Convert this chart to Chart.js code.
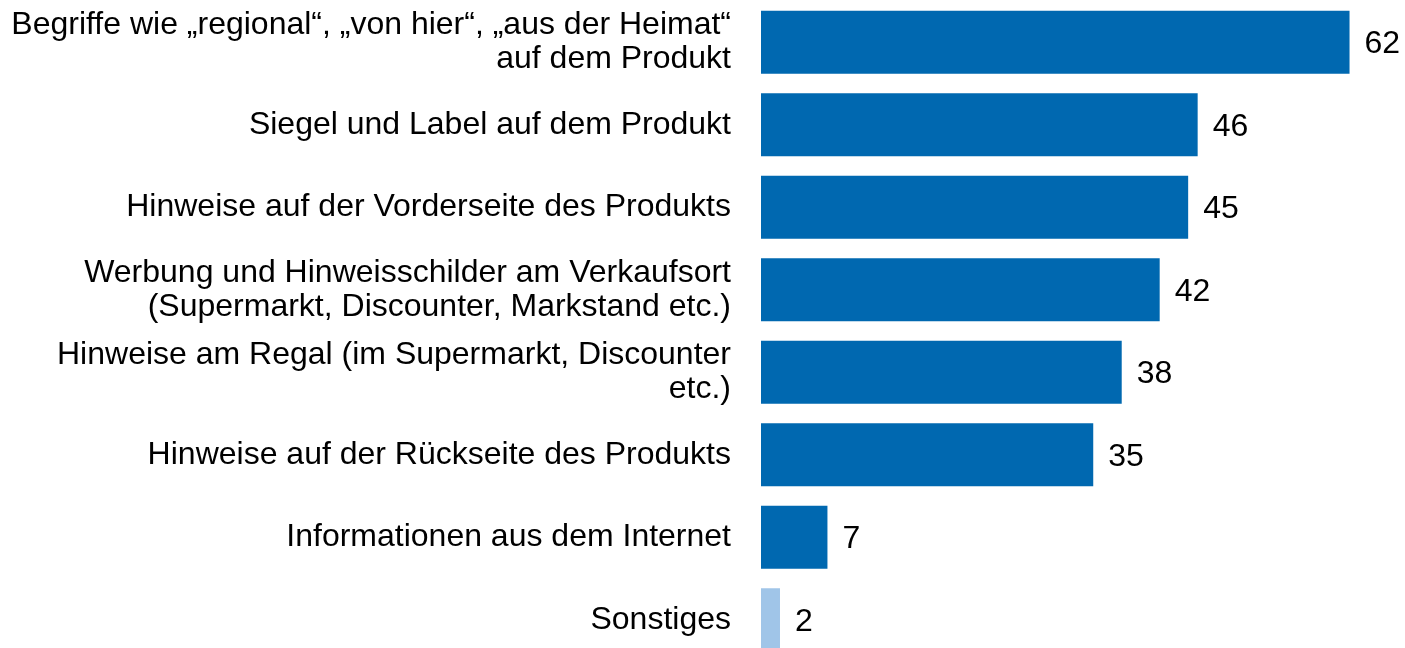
<!DOCTYPE html>
<html>
<head>
<meta charset="utf-8">
<script src="https://cdn.jsdelivr.net/npm/chart.js@4"></script>
<style>
    html, body { margin: 0; padding: 0; background: #fff; overflow: hidden; }
    #wrap { width: 1405px; height: 661px; position: relative; }
</style>
</head>
<body>
<div id="wrap"><canvas id="chart"></canvas></div>
<script>
const categories = [
    ['Begriffe wie „regional“, „von hier“, „aus der Heimat“', 'auf dem Produkt'],
    'Siegel und Label auf dem Produkt',
    'Hinweise auf der Vorderseite des Produkts',
    ['Werbung und Hinweisschilder am Verkaufsort', '(Supermarkt, Discounter, Markstand etc.)'],
    ['Hinweise am Regal (im Supermarkt, Discounter', 'etc.)'],
    'Hinweise auf der Rückseite des Produkts',
    'Informationen aus dem Internet',
    'Sonstiges'
];
const values = [62, 46, 45, 42, 38, 35, 7, 2];
const barColors = ['#0068b0', '#0068b0', '#0068b0', '#0068b0', '#0068b0', '#0068b0', '#0068b0', '#a0c5e8'];

const fontFamily = '"Liberation Sans", Arial, sans-serif';

// writes the number next to each bar
const valueLabels = {
    id: 'valueLabels',
    afterDatasetsDraw(chart) {
        const ctx = chart.ctx;
        const meta = chart.getDatasetMeta(0);
        ctx.save();
        ctx.font = '32px ' + fontFamily;
        ctx.fillStyle = '#000';
        ctx.textAlign = 'left';
        ctx.textBaseline = 'middle';
        meta.data.forEach((bar, i) => {
            ctx.fillText(values[i], bar.x + 15, bar.y + 2);
        });
        ctx.restore();
    }
};

new Chart(document.getElementById('chart'), {
    type: 'bar',
    data: {
        labels: categories,
        datasets: [{
            data: values,
            backgroundColor: barColors,
            borderWidth: 0,
            barPercentage: 0.765,
            categoryPercentage: 1
        }]
    },
    options: {
        indexAxis: 'y',
        responsive: true,
        maintainAspectRatio: false,
        animation: false,
        layout: { padding: { top: 1, bottom: 0, left: 0, right: 8 } },
        plugins: {
            legend: { display: false },
            tooltip: { enabled: false }
        },
        scales: {
            x: {
                min: 0,
                max: 67,
                display: false
            },
            y: {
                afterFit: (scale) => {
                    scale.width = 761;
                    scale.paddingTop = 0;
                    scale.paddingBottom = 0;
                },
                grid: { display: false, drawTicks: false },
                border: { display: false },
                ticks: {
                    color: '#000',
                    padding: 30,
                    autoSkip: false,
                    font: { family: fontFamily, size: 32, lineHeight: 1.06 }
                }
            }
        }
    },
    plugins: [valueLabels]
});
</script>
</body>
</html>
